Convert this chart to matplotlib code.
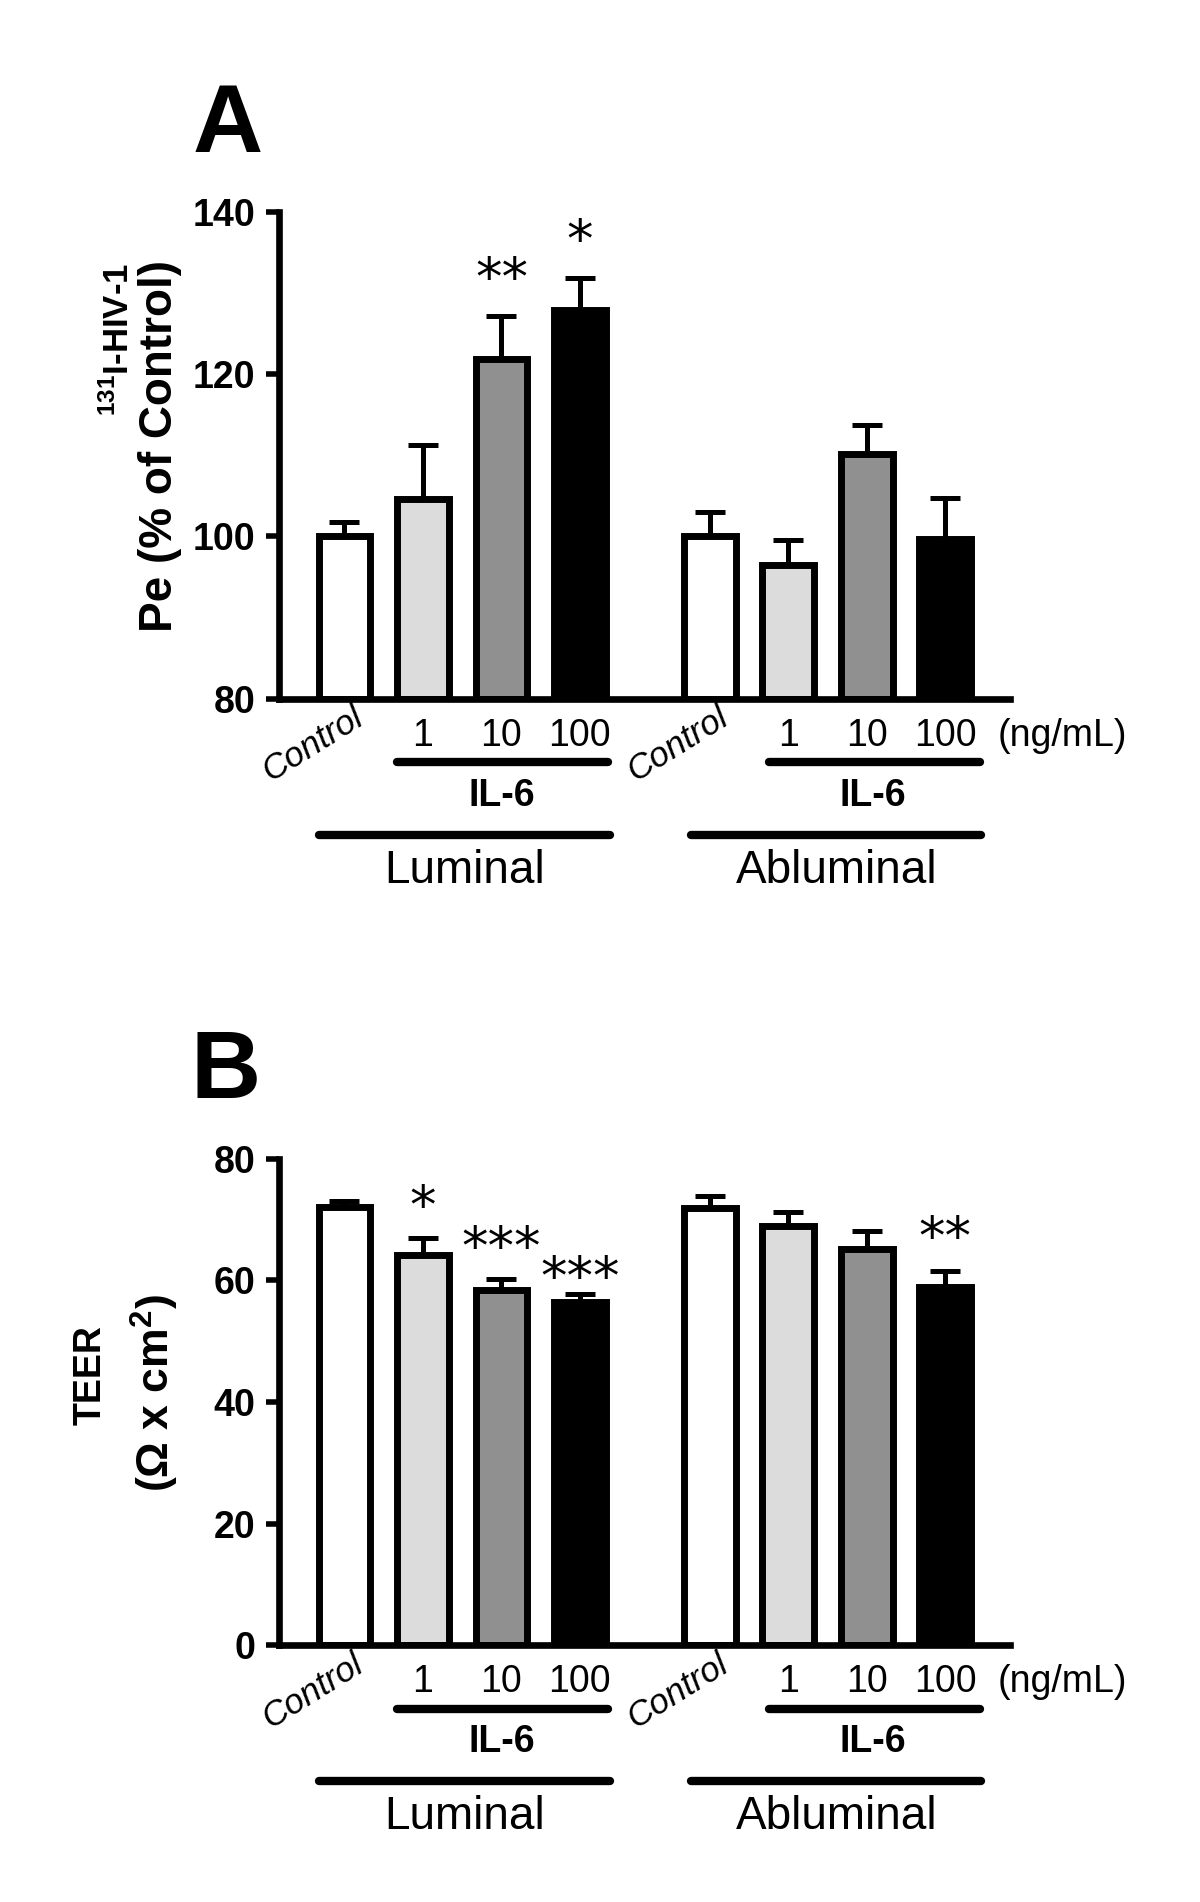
import numpy as np
import matplotlib
matplotlib.use('Agg')
import matplotlib.pyplot as plt
from matplotlib.transforms import offset_copy

plt.rcParams['font.family'] = ['Liberation Sans', 'DejaVu Sans']
plt.rcParams['mathtext.fontset'] = 'custom'
plt.rcParams['mathtext.rm'] = 'Liberation Sans'
plt.rcParams['mathtext.bf'] = 'Liberation Sans:bold'

# data
doses = ['Control', '1', '10', '100']
colors = ['white', '#dcdcdc', '#909090', 'black']

pe_lum = [100.0, 104.6, 121.9, 127.9]
pe_lum_sem = [1.7, 6.7, 5.3, 3.9]
pe_abl = [100.0, 96.4, 110.1, 99.7]
pe_abl_sem = [3.0, 3.1, 3.6, 5.0]
pe_stars = ['', '', '**', '*', '', '', '', '']

teer_lum = [72.0, 64.2, 58.4, 56.5]
teer_lum_sem = [1.1, 2.7, 1.9, 1.3]
teer_abl = [71.9, 68.9, 65.2, 59.0]
teer_abl_sem = [1.9, 2.4, 2.9, 2.5]
teer_stars = ['', '*', '***', '***', '', '', '', '**']

x_lum = np.arange(4)
x_abl = np.arange(4) + 4.656
width = 0.66

fig = plt.figure(figsize=(12, 19.02), dpi=100)
axA = fig.add_axes([0.2321, 0.63275, 0.6096, 0.2559])
axB = fig.add_axes([0.2321, 0.13486, 0.6096, 0.2559])


def draw(ax, lum, lum_sem, abl, abl_sem, stars, ylim, yticks, star_dy):
    x = np.concatenate([x_lum, x_abl])
    vals = np.array(lum + abl)
    sems = np.array(lum_sem + abl_sem)
    cols = colors + colors
    ax.errorbar(x, vals, yerr=[np.zeros_like(sems), sems], fmt='none',
                ecolor='black', elinewidth=3.6, capsize=10.5, capthick=3.6,
                zorder=1)
    ax.bar(x, vals - ylim[0], width, bottom=ylim[0], color=cols,
           edgecolor='black', linewidth=5, zorder=2)
    for xi, v, s, st, dy in zip(x, vals, sems, stars, star_dy):
        if st:
            tr = offset_copy(ax.transData, fig=fig, y=dy, units='dots')
            ax.text(xi, v + s, st, transform=tr, ha='center', va='baseline',
                    fontsize=38, family='DejaVu Sans')
    ax.set_xlim(-0.84, 8.48)
    ax.set_ylim(*ylim)
    ax.set_yticks(yticks)
    ax.set_yticklabels([str(t) for t in yticks], fontweight='bold',
                       fontsize=27)
    ax.set_xticks([])
    for sp in ['top', 'right']:
        ax.spines[sp].set_visible(False)
    ax.spines['left'].set_linewidth(4.8)
    ax.spines['bottom'].set_linewidth(4.8)
    ax.tick_params(axis='y', width=4, length=9.5, pad=7)

    xt = ax.get_xaxis_transform()

    def below(dy):
        return offset_copy(xt, fig=fig, y=-dy, units='dots')

    # x labels
    for xs in (x_lum, x_abl):
        ax.text(xs[0] - 0.41, 0, 'Control', transform=below(46), rotation=32,
                ha='center', va='center', fontsize=25, style='italic')
        for xi, d in zip(xs[1:], doses[1:]):
            ax.text(xi, 0, d, transform=below(37), ha='center', va='center',
                    fontsize=27)
    ax.text(x_abl[3] + 0.67, 0, '(ng/mL)', transform=below(37), ha='left',
            va='center', fontsize=27)

    # bracket lines and group names
    for xs, name, sh in ((x_lum, 'Luminal', 0.0), (x_abl, 'Abluminal', 0.08)):
        ax.plot([xs[1] - 0.33 + sh, xs[3] + 0.36 + sh], [0, 0],
                transform=below(63.5), color='black', lw=6,
                solid_capstyle='round', clip_on=False)
        ax.text((xs[1] + xs[3]) / 2 + sh, 0, 'IL-6', transform=below(97),
                ha='center', va='center', fontsize=27, fontweight='bold')
        x0, x1 = xs[0] - 0.32 + sh, xs[3] + 0.38 + sh
        ax.plot([x0, x1], [0, 0], transform=below(136), color='black', lw=6,
                solid_capstyle='round', clip_on=False)
        ax.text((x0 + x1) / 2, 0, name, transform=below(172),
                ha='center', va='center', fontsize=33)


draw(axA, pe_lum, pe_lum_sem, pe_abl, pe_abl_sem, pe_stars,
     (80, 140), [80, 100, 120, 140], [21] * 8)
draw(axB, teer_lum, teer_lum_sem, teer_abl, teer_abl_sem, teer_stars,
     (0, 80), [0, 20, 40, 60, 80], [0, 15, 15, 0, 0, 0, 0, 17])

H = 1902.0
fig.text(227.5 / 1200, 1 - 152 / H, 'A', ha='center', va='baseline',
         fontsize=70, fontweight='bold')
fig.text(226 / 1200, 1 - 1098 / H, 'B', ha='center', va='baseline',
         fontsize=70, fontweight='bold')

fig.text(119 / 1200, 1 - 340 / H, r'$\mathbf{^{131}}$I-HIV-1', rotation=90,
         ha='center', va='center', fontsize=25, fontweight='bold')
fig.text(160 / 1200, 1 - 446 / H, 'Pe (% of Control)', rotation=90,
         ha='center', va='center', fontsize=33, fontweight='bold')
fig.text(91 / 1200, 1 - 1375 / H, 'TEER', rotation=90,
         ha='center', va='center', fontsize=27, fontweight='bold')
fig.text(155 / 1200, 1 - 1393 / H, r'($\mathbf{\Omega}$ x cm$\mathbf{^2}$)',
         rotation=90, ha='center', va='center', fontsize=32,
         fontweight='bold')

fig.savefig('out.png', dpi=100)
